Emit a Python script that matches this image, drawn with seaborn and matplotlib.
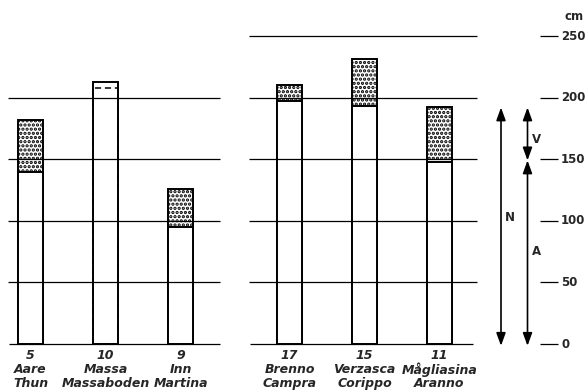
import matplotlib
matplotlib.use("Agg")
import matplotlib.pyplot as plt
import numpy as np
import pandas as pd
import seaborn as sns

# Gauging stations: catalogue number, river, station
station_no = ["5", "10", "9", "17", "15", "11"]
rivers = ["Aare", "Massa", "Inn", "Brenno", "Verzasca", "Mågliasina"]
stations = ["Thun", "Massaboden", "Martina", "Campra", "Corippo", "Aranno"]
# Total column height and lower part N (cm); V = total - N is stippled
total_cm = [182, 213, 126, 210, 231, 192]
n_cm = [140, 208, 95, 197, 193, 148]
n_uncertain = [False, True, False, False, False, False]
scale_ticks = [0, 50, 100, 150, 200, 250]
# Schematic scale on the right: N, split of N into A and V
scheme_top = 192
scheme_split = 149

sns.set_style("white")
plt.rcParams["font.family"] = ["DejaVu Sans"]
plt.rcParams["hatch.linewidth"] = 1.6

fig = plt.figure(figsize=(5.87, 3.92), dpi=100)
ax = fig.add_axes([0, 0, 1, 1])

# two panels of three columns each
panel = [0, 0, 0, 1, 1, 1]
slot = [0, 1, 2, 0, 1, 2]
xpos = [30.5 + 259 * p + 75 * s for p, s in zip(panel, slot)]
df = pd.DataFrame({"x": xpos, "total": total_cm, "n": n_cm})
bar_w = 25 / 75
edge_lw = 1.4

sns.barplot(data=df, x="x", y="total", native_scale=True, width=bar_w,
            color="white", edgecolor="black", linewidth=edge_lw,
            hatch="....", errorbar=None, ax=ax, zorder=2)
n_tot = len(ax.patches)
for patch, unc in zip(ax.patches[:n_tot], n_uncertain):
    patch.set_facecolor("white")
    if unc:
        patch.set_hatch(None)

sns.barplot(data=df, x="x", y="n", native_scale=True, width=bar_w,
            color="white", edgecolor="black", linewidth=edge_lw,
            errorbar=None, ax=ax, zorder=3)
for patch, unc in zip(ax.patches[n_tot:], n_uncertain):
    patch.set_facecolor("white")
    if unc:
        patch.set_facecolor("none")
        patch.set_linestyle((0, (4.0, 2.5)))
        patch.set_linewidth(1.1)
        patch.set_zorder(4)

# horizontal scale lines of both panels
grid_lw = 0.9
ax.hlines([50, 100, 150, 200], 8, 220, color="black", lw=grid_lw, zorder=5)
ax.hlines(0, 9, 220, color="black", lw=grid_lw, zorder=5)
ax.hlines([50, 100, 150, 200, 250], 249, 477, color="black", lw=grid_lw, zorder=5)
ax.hlines(0, 250, 473, color="black", lw=grid_lw, zorder=5)

# right-hand scale in cm
ax.hlines(scale_ticks, 540, 558, color="black", lw=grid_lw)
for t in scale_ticks:
    ax.text(561, t, str(t), ha="left", va="center", fontsize=8.5,
            fontweight="bold")
ax.text(574, 265.5, "cm", ha="center", va="center", fontsize=8.5,
        fontweight="bold")

# arrows N, A, V
arrow = dict(arrowstyle="<|-|>,head_length=0.55,head_width=0.2",
             color="black", lw=1.2, mutation_scale=14, shrinkA=0, shrinkB=0)
ax.annotate("", xy=(501, scheme_top), xytext=(501, -1.5), arrowprops=arrow)
ax.annotate("", xy=(527.5, scheme_split), xytext=(527.5, -1.5), arrowprops=arrow)
ax.annotate("", xy=(527.5, scheme_split), xytext=(527.5, scheme_top), arrowprops=arrow)
ax.text(505, 103, "N", ha="left", va="center", fontsize=8.5, fontweight="bold")
ax.text(531.5, 75, "A", ha="left", va="center", fontsize=8.5, fontweight="bold")
ax.text(531.5, 166, "V", ha="left", va="center", fontsize=8.5, fontweight="bold")

# column labels
for x, no, riv, st in zip(xpos, station_no, rivers, stations):
    for y, s in ((-9.7, no), (-20.6, riv), (-31.8, st)):
        ax.text(x, y, s, ha="center", va="center", fontsize=9,
                fontweight="bold", fontstyle="italic")

ax.set_xlim(0, 587)
ax.set_ylim(-(392 - 344) / 1.232, 344 / 1.232)
ax.axis("off")
fig.savefig("out.png", dpi=100, facecolor="white")
